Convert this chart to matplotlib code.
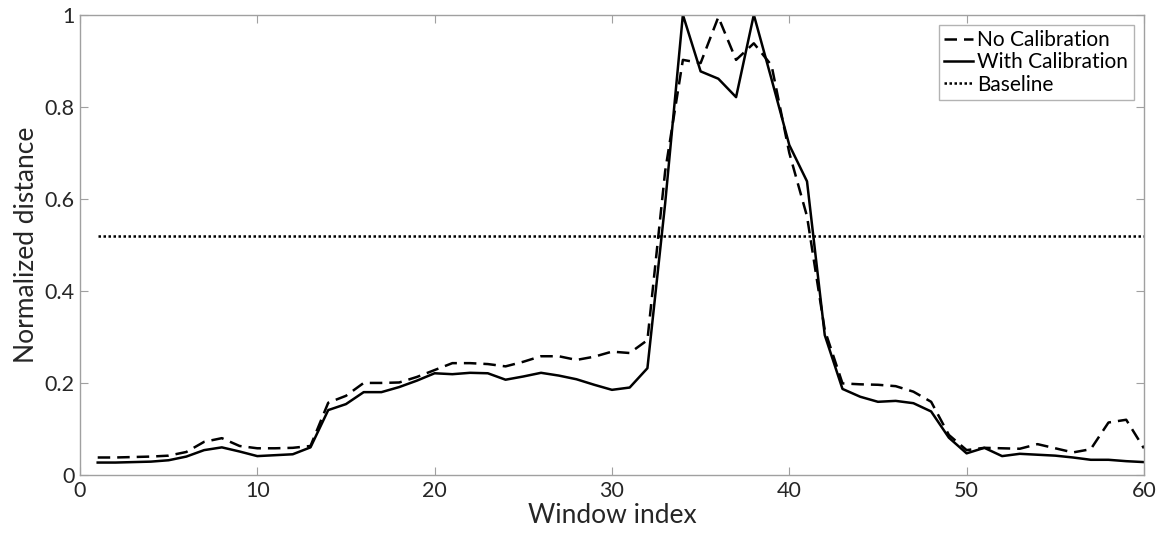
import numpy as np
import matplotlib
matplotlib.use("Agg")
import matplotlib.pyplot as plt

plt.rcParams['font.family'] = ['Lato', 'DejaVu Sans']

window = np.arange(1, 61)

no_calib = [0.038, 0.038, 0.039, 0.040, 0.042, 0.050, 0.072, 0.080, 0.063, 0.058,
            0.058, 0.059, 0.063, 0.157, 0.172, 0.200, 0.200, 0.201, 0.213, 0.228,
            0.243, 0.243, 0.241, 0.236, 0.246, 0.258, 0.258, 0.250, 0.257, 0.268,
            0.265, 0.293, 0.660, 0.902, 0.895, 0.995, 0.902, 0.938, 0.890, 0.700,
            0.562, 0.315, 0.199, 0.197, 0.196, 0.193, 0.181, 0.159, 0.087, 0.054,
            0.059, 0.058, 0.057, 0.067, 0.058, 0.049, 0.056, 0.114, 0.120, 0.058]

with_calib = [0.027, 0.027, 0.028, 0.029, 0.032, 0.040, 0.054, 0.060, 0.051, 0.041,
              0.043, 0.045, 0.060, 0.141, 0.154, 0.180, 0.180, 0.191, 0.205, 0.221,
              0.219, 0.222, 0.221, 0.207, 0.214, 0.222, 0.216, 0.208, 0.196, 0.185,
              0.190, 0.232, 0.590, 1.000, 0.877, 0.861, 0.821, 1.000, 0.860, 0.717,
              0.638, 0.304, 0.187, 0.170, 0.159, 0.161, 0.156, 0.138, 0.081, 0.047,
              0.059, 0.041, 0.046, 0.044, 0.042, 0.038, 0.033, 0.033, 0.030, 0.028]

baseline = 0.52

fig = plt.figure(figsize=(11.59, 5.37), dpi=100)
ax = fig.add_axes([0.069, 0.1155, 0.918, 0.857])

ax.plot(window, no_calib, color='black', lw=1.8, linestyle=(0, (5, 2.8)), label='No Calibration')
ax.plot(window, with_calib, color='black', lw=1.8, label='With Calibration')
ax.plot(window, [baseline] * len(window), color='black', lw=1.8, linestyle=(0, (1, 1)),
        label='Baseline')

ax.set_xlim(0, 60)
ax.set_ylim(0, 1)
ax.set_xticks([0, 10, 20, 30, 40, 50, 60])
ax.set_yticks([0, 0.2, 0.4, 0.6, 0.8, 1])
ax.set_yticklabels(['0', '0.2', '0.4', '0.6', '0.8', '1'])
ax.tick_params(direction='in', top=True, right=True, length=6, color='#a0a0a0',
               labelsize=15.5, labelcolor='#262626', pad=4)
for s in ax.spines.values():
    s.set_color('#a0a0a0')
    s.set_linewidth(1.0)

ax.set_xlabel('Window index', fontsize=19, color='#262626', labelpad=2)
ax.set_ylabel('Normalized distance', fontsize=19, color='#262626', labelpad=4)

leg = ax.legend(loc='upper right', fontsize=15, handlelength=1.4, handletextpad=0.2,
                borderpad=0.25, labelspacing=0.1, fancybox=False, borderaxespad=0.5)
leg.get_frame().set_edgecolor('#a0a0a0')
leg.get_frame().set_linewidth(1.0)

fig.savefig('out.png', dpi=100)
